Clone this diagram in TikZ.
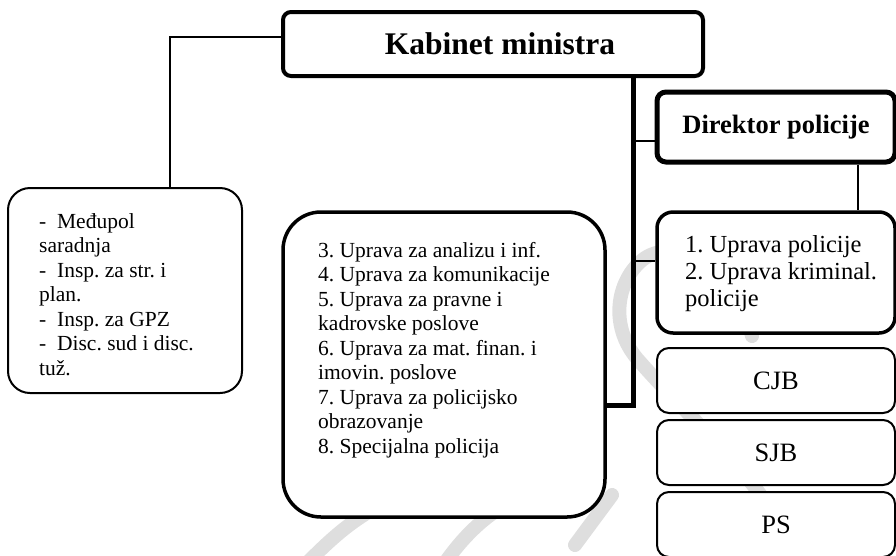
\documentclass[tikz,border=0pt]{standalone}
\usepackage{fontspec}
\setmainfont{Liberation Serif}
\frenchspacing
\begin{document}
\begin{tikzpicture}[x=1pt,y=-1pt,
  box/.style={draw, fill=white, inner sep=0pt, minimum width=238pt},
  conn/.style={line width=1.4pt},
  thickconn/.style={line width=5pt},
  wm/.style={draw=black!13, line width=14pt, line cap=round},
  txt/.style={inner sep=0pt, align=left, font=\fontsize{21.5}{24.5}\selectfont},
  bigtxt/.style={inner sep=0pt, font=\fontsize{26.5}{30}\selectfont}]
\useasboundingbox (0,0) rectangle (896,555);
% watermark
\draw[wm] (752,336) .. controls (730,250) and (665,238) .. (640,262) .. controls (615,285) and (610,330) .. (640,362) .. controls (700,430) and (765,480) .. (805,570);
\draw[wm] (300,570) .. controls (330,540) and (350,520) .. (390,500);
\draw[wm] (440,570) .. controls (460,540) and (480,520) .. (505,505);
\draw[wm] (575,545) -- (612,495);
% boxes
\node[box, line width=4pt, rounded corners=8pt, minimum width=420pt, minimum height=64pt] (kab) at (493,44) {};
\node[inner sep=0pt, font=\bfseries\fontsize{31.5}{36}\selectfont] (kabt) at (500,44) {Kabinet ministra};
\node[box, line width=2pt, rounded corners=22pt, minimum width=234pt, minimum height=205pt] (mgmt) at (125,290.5) {};
\node[box, line width=3.5pt, rounded corners=38pt, minimum width=322pt, minimum height=305pt] (mid) at (444,364.5) {};
\node[box, line width=5pt, rounded corners=9pt, minimum height=70pt] (dir) at (776,127) {};
\node[bigtxt, font=\bfseries\fontsize{26.5}{30}\selectfont] (dirt) at (776,127) {Direktor policije};
\node[box, line width=3.5pt, rounded corners=16pt, minimum height=121pt] (upr) at (776,272.5) {};
\node[box, line width=2pt, rounded corners=12pt, minimum height=65pt] (cjb) at (776,380.5) {};
\node[box, line width=2pt, rounded corners=12pt, minimum height=65pt] (sjb) at (776,452.5) {};
\node[box, line width=2pt, rounded corners=12pt, minimum height=65pt] (ps) at (776,524.5) {};
\node[bigtxt] (cjbt) at (cjb) {CJB};
\node[bigtxt] (sjbt) at (sjb) {SJB};
\node[bigtxt] (pst) at (ps) {PS};
% texts (anchor = baseline of the last line)
\node[txt, anchor=base west] (mgmtt) at (39,375) {-\ \ Međupol\\saradnja\\-\ \ Insp. za str. i\\plan.\\-\ \ Insp. za GPZ\\-\ \ Disc. sud i disc.\\tuž.};
\node[txt, anchor=base west] (midt) at (318,453) {3. Uprava za analizu i inf.\\4. Uprava za komunikacije\\5. Uprava za pravne i\\kadrovske poslove\\6. Uprava za mat. finan. i\\imovin. poslove\\7. Uprava za policijsko\\obrazovanje\\8. Specijalna policija};
\node[txt, anchor=base west, font=\fontsize{24.5}{27}\selectfont] (uprt) at (685,306) {1. Uprava policije\\2. Uprava kriminal.\\policije};
% connectors
\coordinate (tb) at (633,405);
\draw[conn] ([yshift=7pt]kab.west) -| ([xshift=45pt]mgmt.north);
\draw[thickconn] (kab.south -| tb) -- (tb) -- (mid.east |- tb);
\draw[conn] (tb |- 0,141) -- ([yshift=-14pt]dir.west);
\draw[conn] (tb |- 0,261) -- ([yshift=11.5pt]upr.west);
\draw[conn] ([xshift=82pt]dir.south) -- ([xshift=82pt]upr.north);
\end{tikzpicture}
\end{document}
